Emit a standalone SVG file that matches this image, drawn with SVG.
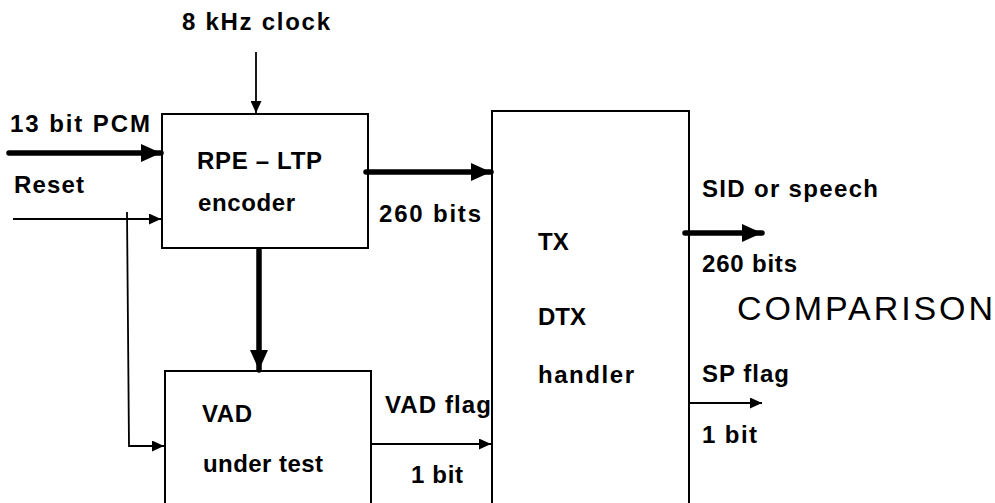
<svg xmlns="http://www.w3.org/2000/svg" width="995" height="503" viewBox="0 0 995 503">
<style>
.box{fill:#fff;stroke:#000;stroke-width:2}
.t{font-family:"Liberation Sans",Arial,sans-serif;font-weight:bold;font-size:24px;fill:#000}
.big{font-family:"Liberation Sans",Arial,sans-serif;font-size:34px;fill:#000}
.thick{stroke:#000;stroke-width:5.5;fill:none;stroke-linecap:round}
.thin{stroke:#000;stroke-width:1.8;fill:none}
</style>
<defs>
<marker id="ah" markerUnits="userSpaceOnUse" markerWidth="22" markerHeight="18" refX="20" refY="9" orient="auto"><path d="M0,0 L20,9 L0,18 Z" fill="#000"/></marker>
<marker id="as" markerUnits="userSpaceOnUse" markerWidth="13" markerHeight="11" refX="12" refY="5.5" orient="auto"><path d="M0,0 L12,5.5 L0,11 Z" fill="#000"/></marker>
</defs>
<rect width="995" height="503" fill="#fff"/>
<g id="encoder">
<rect class="box" x="162" y="114" width="206" height="134"/>
<text class="t" x="197" y="169" textLength="125" lengthAdjust="spacing">RPE – LTP</text>
<text class="t" x="198" y="211" textLength="97" lengthAdjust="spacing">encoder</text>
</g>
<g id="vad">
<rect class="box" x="165" y="371" width="206" height="150"/>
<text class="t" x="202" y="422" textLength="50" lengthAdjust="spacing">VAD</text>
<text class="t" x="203" y="472" textLength="120" lengthAdjust="spacing">under test</text>
</g>
<g id="dtx">
<rect class="box" x="492" y="111" width="197" height="410"/>
<text class="t" x="538" y="250">TX</text>
<text class="t" x="538" y="325">DTX</text>
<text class="t" x="538" y="383" textLength="96" lengthAdjust="spacing">handler</text>
</g>
<g id="connectors">
<line class="thin" x1="256" y1="52" x2="256" y2="113" marker-end="url(#as)"/>
<line class="thick" x1="9" y1="153" x2="161" y2="153" marker-end="url(#ah)"/>
<line class="thin" x1="13" y1="219" x2="161" y2="219" marker-end="url(#as)"/>
<polyline class="thin" points="127,212 129,446 164,446" marker-end="url(#as)"/>
<line class="thick" x1="366" y1="172" x2="491" y2="172" marker-end="url(#ah)"/>
<line class="thick" x1="259" y1="250" x2="259" y2="370" marker-end="url(#ah)"/>
<line class="thin" x1="371" y1="444" x2="491" y2="444" marker-end="url(#as)"/>
<line class="thick" x1="685" y1="233" x2="762" y2="233" marker-end="url(#ah)"/>
<line class="thin" x1="690" y1="403" x2="762" y2="403" marker-end="url(#as)"/>
</g>
<g id="labels">
<text class="t" x="182" y="30" textLength="148" lengthAdjust="spacing">8 kHz clock</text>
<text class="t" x="10" y="132" textLength="140" lengthAdjust="spacing">13 bit PCM</text>
<text class="t" x="14" y="193" textLength="70" lengthAdjust="spacing">Reset</text>
<text class="t" x="379" y="222" textLength="102" lengthAdjust="spacing">260 bits</text>
<text class="t" x="385" y="413" textLength="106" lengthAdjust="spacing">VAD flag</text>
<text class="t" x="411" y="483" textLength="52" lengthAdjust="spacing">1 bit</text>
<text class="t" x="702" y="197" textLength="176" lengthAdjust="spacing">SID or speech</text>
<text class="t" x="702" y="272" textLength="95" lengthAdjust="spacing">260 bits</text>
<text class="big" x="737" y="320" textLength="256" lengthAdjust="spacing">COMPARISON</text>
<text class="t" x="702" y="382" textLength="87" lengthAdjust="spacing">SP flag</text>
<text class="t" x="702" y="443" textLength="55" lengthAdjust="spacing">1 bit</text>
</g>
</svg>
